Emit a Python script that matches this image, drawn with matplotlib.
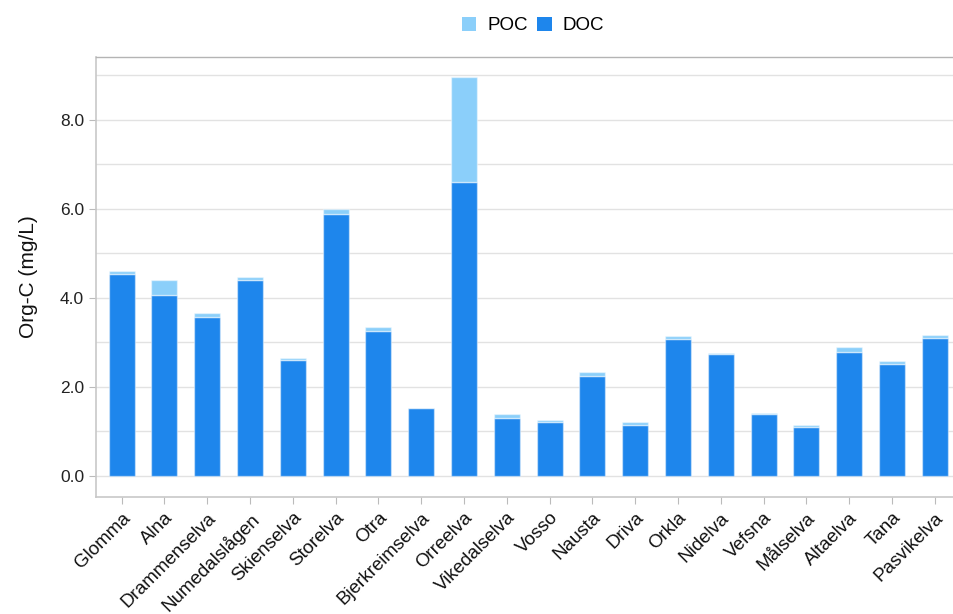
import matplotlib
matplotlib.use("Agg")
import matplotlib.pyplot as plt
from matplotlib.ticker import MultipleLocator, FormatStrFormatter
from matplotlib.patches import Patch
import numpy as np

plt.rcParams['font.family'] = ['Liberation Sans', 'DejaVu Sans']

rivers = ["Glomma", "Alna", "Drammenselva", "Numedalslågen", "Skienselva",
          "Storelva", "Otra", "Bjerkreimselva", "Orreelva", "Vikedalselva",
          "Vosso", "Nausta", "Driva", "Orkla", "Nidelva", "Vefsna",
          "Målselva", "Altaelva", "Tana", "Pasvikelva"]
doc = [4.54, 4.07, 3.56, 4.40, 2.60, 5.87, 3.26, 1.51, 6.60, 1.30,
       1.21, 2.24, 1.15, 3.07, 2.73, 1.39, 1.09, 2.79, 2.52, 3.09]
poc = [0.06, 0.33, 0.10, 0.07, 0.04, 0.12, 0.07, 0.02, 2.36, 0.08,
       0.04, 0.08, 0.05, 0.06, 0.02, 0.03, 0.06, 0.11, 0.06, 0.07]

doc_color = "#1E86EC"
poc_color = "#8BCFFA"

fig = plt.figure(figsize=(9.54, 6.14), dpi=100)
ax = fig.add_axes([0.1006, 0.191, 0.8994, 0.7157])

x = np.arange(len(rivers))
w = 0.61
ax.bar(x, doc, width=w, color=doc_color, edgecolor=(1, 1, 1, 0.45), linewidth=1, zorder=3)
ax.bar(x, poc, width=w, bottom=doc, color=poc_color, edgecolor=(1, 1, 1, 0.45), linewidth=1, zorder=3)

ax.set_xlim(-0.6, 19.45)
ax.set_ylim(-0.472, 9.40)

ax.yaxis.set_major_locator(MultipleLocator(2))
ax.yaxis.set_minor_locator(MultipleLocator(1))
ax.yaxis.set_major_formatter(FormatStrFormatter("%.1f"))
ax.grid(True, which="both", axis="y", color="#E2E2E2", linewidth=1, zorder=0)
ax.tick_params(axis="y", which="major", length=5, color="#BBBBBB", labelsize=12.5, labelcolor="#222222")
ax.tick_params(axis="y", which="minor", length=0)

ax.set_xticks(x)
ax.set_xticklabels(rivers, rotation=45, ha="right", rotation_mode="anchor", fontsize=13.5, color="#111111")
ax.tick_params(axis="x", length=5, color="#BBBBBB", pad=4)

for side in ("left", "bottom"):
    ax.spines[side].set_color("#C8C8C8")
    ax.spines[side].set_linewidth(1.2)
ax.spines["top"].set_color("#B4B4B4")
ax.spines["top"].set_linewidth(1.0)
ax.spines["right"].set_visible(False)

ax.set_ylabel("Org-C (mg/L)", fontsize=15, color="#111111", labelpad=16)

handles = [Patch(facecolor=poc_color, edgecolor="none", label="POC"),
           Patch(facecolor=doc_color, edgecolor="none", label="DOC")]
fig.legend(handles=handles, loc="center", bbox_to_anchor=(0.559, 0.958), ncol=2,
           frameon=False, fontsize=13.5, handlelength=0.75, handleheight=0.75,
           handletextpad=0.6, columnspacing=0.5)

fig.savefig("out.png", dpi=100)
